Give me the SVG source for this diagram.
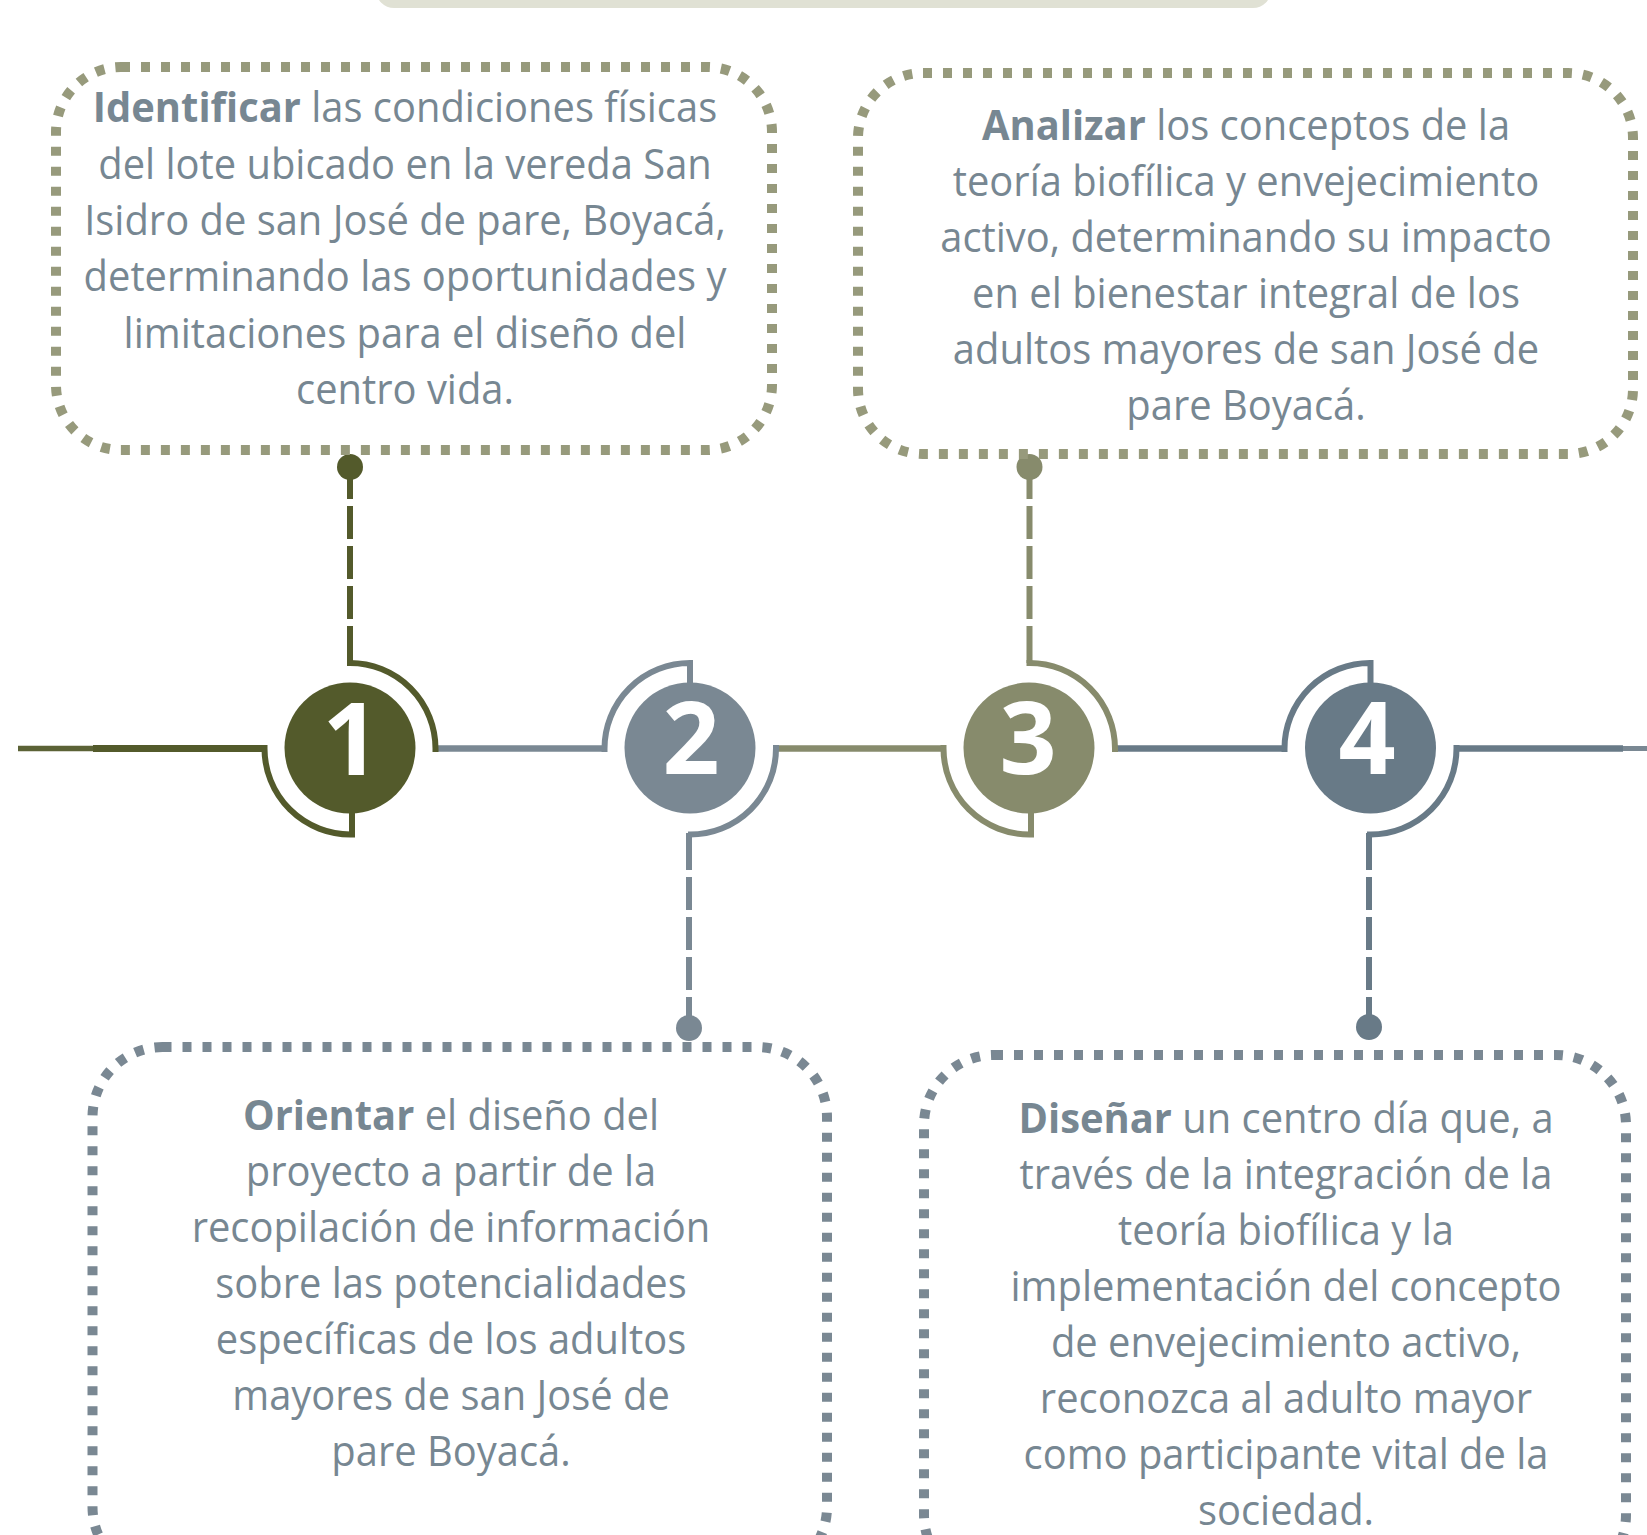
<svg xmlns="http://www.w3.org/2000/svg" width="1647" height="1535" viewBox="0 0 1647 1535">
<style>
.txt{font-family:"Open Sans","Liberation Sans",sans-serif;font-size:42px;fill:#778792;text-anchor:middle}
.b{font-weight:bold}
.num{font-family:"Open Sans","Liberation Sans",sans-serif;font-size:100px;font-weight:bold;fill:#ffffff;text-anchor:middle}
.boxA{fill:none;stroke:#979a7c;stroke-width:10;stroke-dasharray:9 11}
.boxB{fill:none;stroke:#7a8893;stroke-width:10;stroke-dasharray:9 11}
.arc{fill:none;stroke-width:6}
.ln{fill:none;stroke-width:6.5}
</style>
<rect x="376" y="-40" width="895" height="48" rx="18" fill="#e0e1d4"/>

<g id="connectors">
  <line x1="18" y1="748.5" x2="94" y2="748.5" stroke="#5b6236" stroke-width="5.7"/>
  <line x1="93" y1="748.5" x2="265" y2="748.5" stroke="#535a2b" stroke-width="7"/>
  <line x1="436" y1="748.5" x2="604" y2="748.5" stroke="#7a8893" class="ln"/>
  <line x1="776" y1="748.5" x2="943" y2="748.5" stroke="#878b6c" class="ln"/>
  <line x1="1115" y1="748.5" x2="1284.5" y2="748.5" stroke="#687a87" class="ln"/>
  <line x1="1456.5" y1="748.5" x2="1623" y2="748.5" stroke="#687a87" class="ln"/>
  <line x1="1623" y1="748.5" x2="1647" y2="748.5" stroke="#7a8893" stroke-width="5"/>
  <line x1="350" y1="467" x2="350" y2="663" stroke="#535a2b" stroke-width="6" stroke-dasharray="32 7 33 7 33 7 33 7 40"/>
  <circle cx="350" cy="467" r="13" fill="#535a2b"/>
  <line x1="1029.5" y1="467" x2="1029.5" y2="663" stroke="#878b6c" stroke-width="6" stroke-dasharray="32 7 33 7 33 7 33 7 40"/>
  <circle cx="1029.5" cy="467" r="13" fill="#878b6c"/>
  <line x1="689" y1="833" x2="689" y2="1028" stroke="#7a8893" stroke-width="6" stroke-dasharray="37 7 33 7 33 7 33 7 40"/>
  <circle cx="689" cy="1028" r="13" fill="#7a8893"/>
  <line x1="1369" y1="833" x2="1369" y2="1027" stroke="#687a87" stroke-width="6" stroke-dasharray="37 7 33 7 33 7 33 7 40"/>
  <circle cx="1369" cy="1027" r="13" fill="#687a87"/>
</g>

<g id="step1">
  <circle cx="350" cy="748" r="65.5" fill="#535a2b"/>
  <path class="arc" stroke="#535a2b" d="M347,663 H350 A85.5,85.5 0 0 1 435.5,748.5 V752"/>
  <path class="arc" stroke="#535a2b" d="M264.5,745 V748.5 A86,86 0 0 0 351,834.5 H352 V812"/>
  <text class="num" x="351" y="775">1</text>
</g>
<g id="step2">
  <circle cx="690" cy="748" r="65.5" fill="#7a8893"/>
  <path class="arc" stroke="#7a8893" d="M604.5,752 V748.5 A85.5,85.5 0 0 1 690,663 V684"/>
  <path class="arc" stroke="#7a8893" d="M776,745 V748.5 A86,86 0 0 1 690,834.5 H688"/>
  <text class="num" x="691" y="774">2</text>
</g>
<g id="step3">
  <circle cx="1029" cy="748" r="65.5" fill="#878b6c"/>
  <path class="arc" stroke="#878b6c" d="M1026.5,663 H1029.5 A85.5,85.5 0 0 1 1115,748.5 V752"/>
  <path class="arc" stroke="#878b6c" d="M943.5,745 V748.5 A86,86 0 0 0 1030,834.5 H1031 V812"/>
  <text class="num" x="1028" y="774">3</text>
</g>
<g id="step4">
  <circle cx="1370.5" cy="748" r="65.5" fill="#687a87"/>
  <path class="arc" stroke="#687a87" d="M1284.5,752 V748.5 A85.5,85.5 0 0 1 1370.5,663 V684"/>
  <path class="arc" stroke="#687a87" d="M1456.5,745 V748.5 A86,86 0 0 1 1370.5,834.5 H1367"/>
  <text class="num" x="1367" y="774">4</text>
</g>

<g id="box1">
  <rect class="boxA" x="56" y="67" width="716" height="383" rx="65"/>
  <g transform="translate(405 0) scale(0.95 1)">
    <text class="txt" x="0" y="122.5"><tspan class="b">Identificar</tspan> las condiciones físicas</text>
    <text class="txt" x="0" y="178.8">del lote ubicado en la vereda San</text>
    <text class="txt" x="0" y="235">Isidro de san José de pare, Boyacá,</text>
    <text class="txt" x="0" y="291.3">determinando las oportunidades y</text>
    <text class="txt" x="0" y="347.6">limitaciones para el diseño del</text>
    <text class="txt" x="0" y="404">centro vida.</text>
  </g>
</g>

<g id="box3">
  <rect class="boxA" x="858" y="73" width="775" height="381" rx="65"/>
  <g transform="translate(1246 0) scale(0.95 1)">
    <text class="txt" x="0" y="140.5"><tspan class="b">Analizar</tspan> los conceptos de la</text>
    <text class="txt" x="0" y="196.5">teoría biofílica y envejecimiento</text>
    <text class="txt" x="0" y="252.5">activo, determinando su impacto</text>
    <text class="txt" x="0" y="308.5">en el bienestar integral de los</text>
    <text class="txt" x="0" y="364.5">adultos mayores de san José de</text>
    <text class="txt" x="0" y="420.5">pare Boyacá.</text>
  </g>
</g>

<g id="box2">
  <rect class="boxB" x="92.5" y="1047" width="734.5" height="530" rx="70"/>
  <g transform="translate(451 0) scale(0.95 1)">
    <text class="txt" x="0" y="1130.5"><tspan class="b">Orientar</tspan> el diseño del</text>
    <text class="txt" x="0" y="1186.5">proyecto a partir de la</text>
    <text class="txt" x="0" y="1242.5">recopilación de información</text>
    <text class="txt" x="0" y="1298.5">sobre las potencialidades</text>
    <text class="txt" x="0" y="1354.5">específicas de los adultos</text>
    <text class="txt" x="0" y="1410.5">mayores de san José de</text>
    <text class="txt" x="0" y="1466.5">pare Boyacá.</text>
  </g>
</g>

<g id="box4">
  <rect class="boxB" x="924" y="1055" width="702" height="530" rx="70"/>
  <g transform="translate(1286 0) scale(0.95 1)">
    <text class="txt" x="0" y="1133"><tspan class="b">Diseñar</tspan> un centro día que, a</text>
    <text class="txt" x="0" y="1189">través de la integración de la</text>
    <text class="txt" x="0" y="1245">teoría biofílica y la</text>
    <text class="txt" x="0" y="1301">implementación del concepto</text>
    <text class="txt" x="0" y="1357">de envejecimiento activo,</text>
    <text class="txt" x="0" y="1413">reconozca al adulto mayor</text>
    <text class="txt" x="0" y="1469">como participante vital de la</text>
    <text class="txt" x="0" y="1525">sociedad.</text>
  </g>
</g>
</svg>
